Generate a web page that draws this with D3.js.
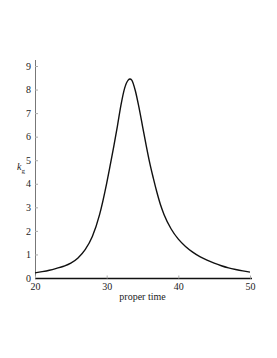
<!DOCTYPE html>
<html><head><meta charset="utf-8">
<script src="https://cdn.jsdelivr.net/npm/d3@7"></script>
<style>html,body{margin:0;padding:0;background:#fff;}svg{display:block;}
svg text{font-family:"Liberation Serif","Times New Roman",serif;}</style>
</head><body>
<svg id="c" width="277" height="358"></svg>
<script>
const times = [20,21,22,23,24,25,26,27,28,29,30,30.5,31,31.5,32,32.5,33,33.25,33.5,34,34.5,35,35.5,36,36.5,37,37.5,38,39,40,41,42,43,44,45,46,47,48,49,50];
const kg    = [0.22,0.27,0.33,0.41,0.50,0.63,0.85,1.20,1.76,2.68,4.02,4.8,5.6,6.45,7.35,8.05,8.4,8.45,8.4,7.95,7.25,6.45,5.65,4.9,4.25,3.65,3.12,2.7,2.08,1.65,1.34,1.1,0.91,0.76,0.63,0.52,0.43,0.36,0.3,0.25];
const xTicks = [20,30,40,50];
const yTicks = [0,1,2,3,4,5,6,7,8,9];

const svg = d3.select("#c");
const x = d3.scaleLinear().domain([20,50]).range([35,250]);
const y = d3.scaleLinear().domain([0,9]).range([278,66]);

const font = "'Liberation Serif','Times New Roman',serif";

// y axis
const ya = svg.append("g").attr("transform","translate(35,0)").attr("font-family",font)
  .call(d3.axisLeft(y).tickValues(yTicks).tickSize(-3).tickPadding(4).tickFormat(d3.format("d")));
ya.attr("font-family",font);
ya.select(".domain").attr("d", `M0.5,${y(0)}V60`).attr("stroke","#777").attr("stroke-width",1);
ya.selectAll(".tick line").attr("stroke","#aaa");
ya.selectAll("text").attr("font-size",10).attr("fill","#222");

// x axis
const xa = svg.append("g").attr("transform","translate(0,278.5)")
  .call(d3.axisBottom(x).tickValues(xTicks).tickSize(-3).tickPadding(4).tickFormat(d3.format("d")));
xa.attr("font-family",font);
xa.select(".domain").attr("d", `M35,0H252`).attr("stroke","#111").attr("stroke-width",1.6);
xa.selectAll(".tick line").attr("stroke","#aaa");
xa.selectAll("text").attr("font-size",10).attr("fill","#222");

// curve
const line = d3.line().x((d,i)=>x(times[i])).y(d=>y(d)).curve(d3.curveMonotoneX);
svg.append("path").datum(kg).attr("d",line).attr("fill","none").attr("stroke","#111").attr("stroke-width",1.4);

// labels
svg.append("text").attr("x",142.5).attr("y",300).attr("text-anchor","middle")
  .attr("font-family",font).attr("font-size",10).attr("fill","#222").text("proper time");
const yl = svg.append("text").attr("x",17).attr("y",170)
  .attr("font-family",font).attr("font-size",10).attr("fill","#222");
yl.append("tspan").attr("font-style","italic").text("k");
yl.append("tspan").attr("font-size",7).attr("dy",3).text("g");
</script>
</body></html>
